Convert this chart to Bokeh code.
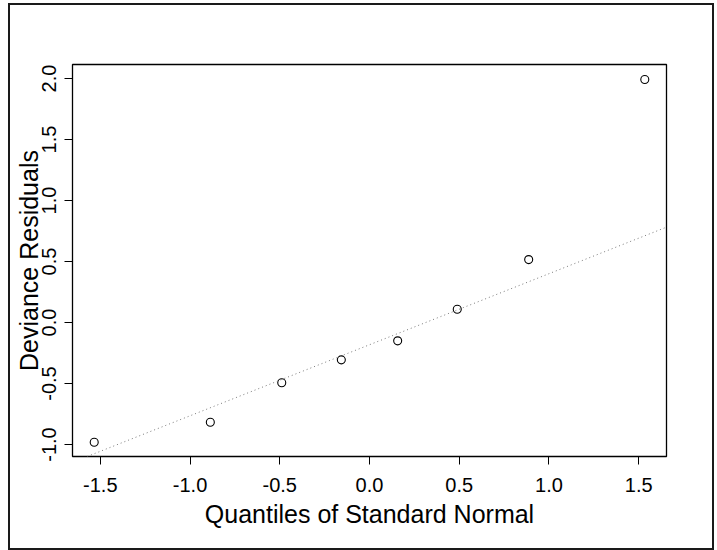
import numpy as np
from bokeh.plotting import figure
from bokeh.models import FixedTicker, PrintfTickFormatter, Slope, Range1d, InlineStyleSheet
from bokeh.embed import file_html
from bokeh.resources import INLINE

# Normal quantiles (theoretical) and sorted deviance residuals
quantiles = [-1.534, -0.887, -0.489, -0.157, 0.157, 0.489, 0.887, 1.534]
residuals = [-0.981, -0.817, -0.494, -0.306, -0.150, 0.109, 0.516, 1.992]

x_ticks = [-1.5, -1.0, -0.5, 0.0, 0.5, 1.0, 1.5]
y_ticks = [-1.0, -0.5, 0.0, 0.5, 1.0, 1.5, 2.0]

# qqline through the first and third quartiles
q1, q3 = np.percentile(residuals, [25, 75])
n1, n3 = -0.6745, 0.6745
slope = (q3 - q1) / (n3 - n1)
intercept = q1 - slope * n1

FONT = "Liberation Sans"
W, H = 716, 550

# outer frame around the whole graphic
frame_css = InlineStyleSheet(css="""
:host { position: relative; }
:host::after {
  content: "";
  position: absolute;
  left: 8px; top: 3px; width: 706px; height: 547px;
  border: 2px solid #1a1a1a;
  box-sizing: border-box;
  pointer-events: none;
  z-index: 100;
}
""")

p = figure(width=W, height=H, output_backend="svg", toolbar_location=None,
           min_border_left=72, min_border_right=50, min_border_top=64, min_border_bottom=94,
           x_range=Range1d(-1.655, 1.655), y_range=Range1d(-1.098, 2.115),
           stylesheets=[frame_css])

p.grid.visible = False
p.outline_line_color = "black"
p.outline_line_width = 1.3
p.background_fill_color = "white"
p.border_fill_color = "white"

p.add_layout(Slope(gradient=slope, y_intercept=intercept, line_color="#7a7a7a",
                   line_width=1, line_dash="1 3"))

p.scatter(quantiles, residuals, marker="circle", size=8, fill_color=None,
          line_color="black", line_width=1.1)

for ax, ticks in ((p.xaxis[0], x_ticks), (p.yaxis[0], y_ticks)):
    ax.ticker = FixedTicker(ticks=ticks)
    ax.formatter = PrintfTickFormatter(format="%.1f")
    ax.axis_line_color = None
    ax.major_tick_in = 0
    ax.major_tick_out = 8
    ax.major_tick_line_color = "black"
    ax.minor_tick_line_color = None
    ax.major_label_text_font = FONT
    ax.major_label_text_font_size = "20px"
    ax.major_label_text_color = "black"
    ax.axis_label_text_font = FONT
    ax.axis_label_text_font_size = "25px"
    ax.axis_label_text_font_style = "normal"
    ax.axis_label_text_color = "black"

p.xaxis.axis_label = "Quantiles of Standard Normal"
p.yaxis.axis_label = "Deviance Residuals"
p.xaxis.major_label_standoff = 13
p.xaxis.axis_label_standoff = 5
p.yaxis.major_label_orientation = "parallel"
p.yaxis.major_label_standoff = 8
p.yaxis.axis_label_standoff = -3

open("out.html", "w").write(file_html(p, INLINE))
